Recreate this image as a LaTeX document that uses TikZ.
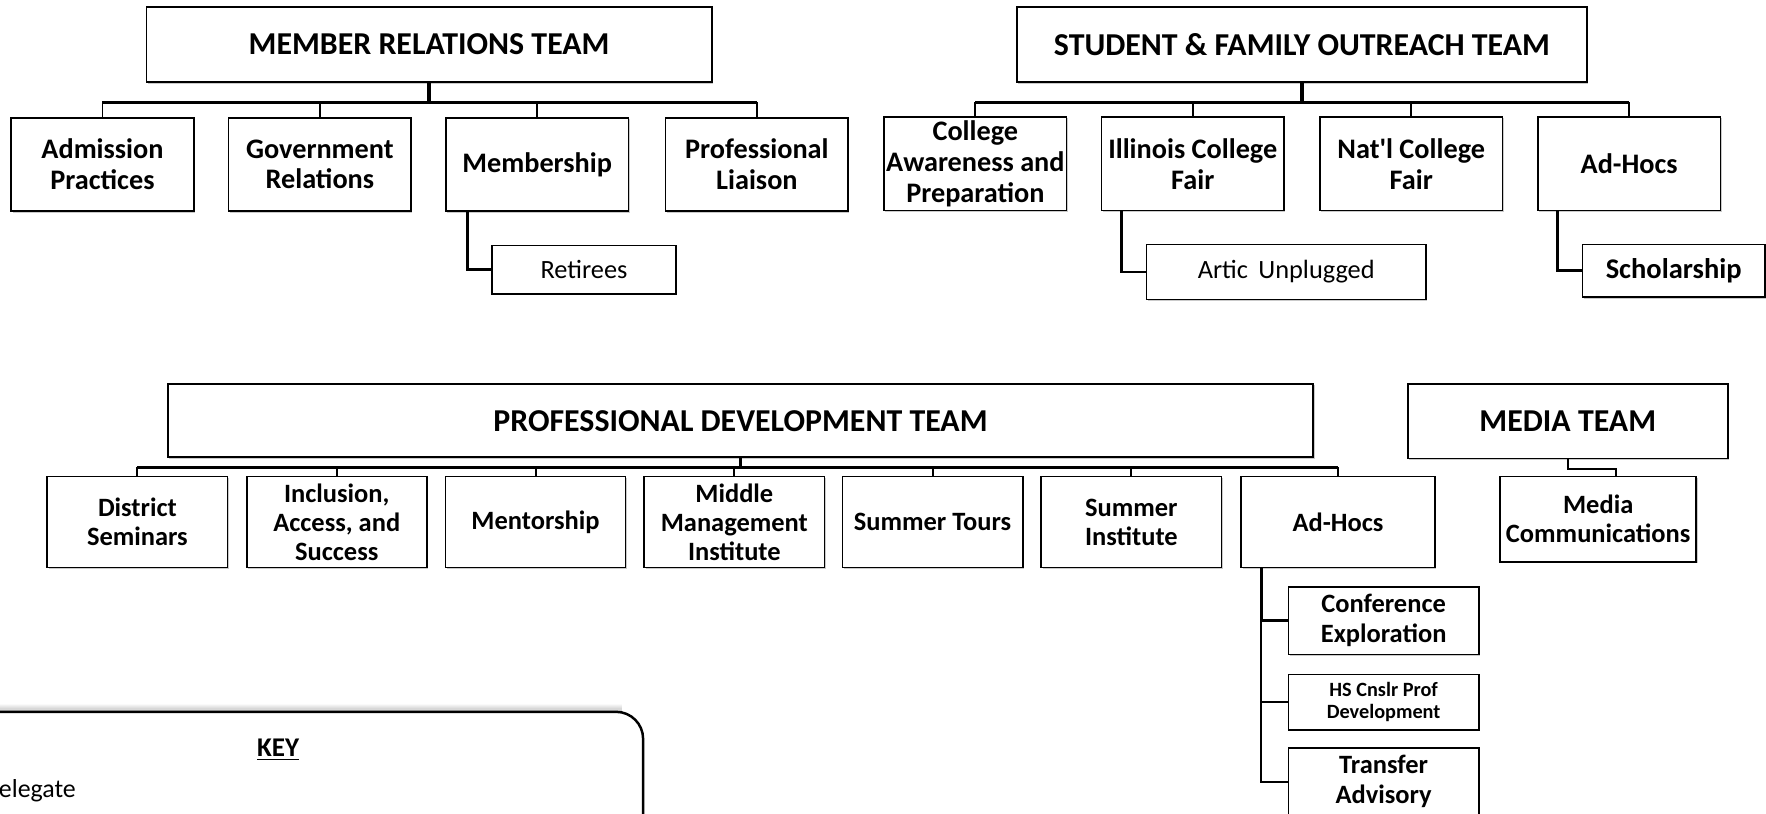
\documentclass[tikz,border=0pt]{standalone}
\usepackage{fontspec}
\setmainfont{Carlito}
\newfontfamily\carlitoplain{Carlito}
\usetikzlibrary{shadows}
\begin{document}
\begin{tikzpicture}[x=0.5pt,y=-0.5pt,
  box/.style={draw, fill=white, line width=0.75pt, inner sep=0pt, align=center,
    drop shadow={shadow xshift=0.6pt, shadow yshift=-0.6pt, opacity=0.35, fill=black!60}},
  team/.style={box, minimum height=33.5pt, font=\bfseries\fontsize{14.15}{17}\selectfont},
  topchild/.style={box, minimum width=81pt, minimum height=41.5pt, font=\bfseries\fontsize{12.55}{13.6}\selectfont},
  botchild/.style={box, minimum width=80pt, minimum height=40.5pt, font=\bfseries\fontsize{11.75}{12.9}\selectfont},
  subreg/.style={box, font=\fontsize{11.7}{13}\selectfont},
  subbold/.style={box, font=\bfseries\fontsize{11.75}{13.4}\selectfont},
  pdrop/.style={line width=1.6pt},
  bus/.style={line width=1.3pt},
  cdrop/.style={line width=0.85pt},
  sublink/.style={line width=1.3pt}]
\useasboundingbox (0,0) rectangle (1568,722);
\clip (0,0) rectangle (1568,722);

% ---------- Member Relations Team ----------
\node[team, minimum width=251pt] (mrt) at (381,39.5) {MEMBER RELATIONS TEAM};
\node[topchild] (ap)  at (91,146)  {Admission\\Practices};
\node[topchild] (gr)  at (284,146) {Government\\Relations};
\node[topchild] (mem) at (477,146) {Membership};
\node[topchild] (pl)  at (672,146) {Professional\\Liaison};
\node[subreg, minimum width=81.5pt, minimum height=21.5pt] (ret) at (518.5,239.5) {Retirees};

\draw[pdrop] (mrt.south) -- ++(0,17) coordinate (mb);
\draw[bus] (ap.north |- mb) -- (pl.north |- mb);
\foreach \n in {ap,gr,mem,pl} \draw[cdrop] (\n.north) -- (\n.north |- mb);
\draw[sublink] ([xshift=-31pt]mem.south) |- (ret.west);

% ---------- Student & Family Outreach Team ----------
\node[team, minimum width=253pt] (sfot) at (1156,39.5) {STUDENT \& FAMILY OUTREACH TEAM};
\node[topchild] (cap) at (866,145.5)    {College\\Awareness and\\Preparation};
\node[topchild] (icf) at (1059,145.5)   {Illinois College\\Fair};
\node[topchild] (ncf) at (1253,145.5)   {{\carlitoplain\bfseries Nat'l College}\\Fair};
\node[topchild] (ah1) at (1446.5,145.5) {Ad-Hocs};
\node[subreg, minimum width=124pt, minimum height=24.5pt] (artic) at (1142,241.5) {Artic\, Unplugged};
\node[box, minimum width=81pt, minimum height=23.5pt, font=\bfseries\fontsize{12.65}{14}\selectfont] (sch) at (1486,240.5) {Scholarship};

\draw[pdrop] (sfot.south) -- ++(0,17) coordinate (sb);
\draw[bus] (cap.north |- sb) -- (ah1.north |- sb);
\foreach \n in {cap,icf,ncf,ah1} \draw[cdrop] (\n.north) -- (\n.north |- sb);
\draw[sublink] ([xshift=-31.5pt]icf.south) |- (artic.west);
\draw[sublink] ([xshift=-31.75pt]ah1.south) |- (sch.west);

% ---------- Professional Development Team ----------
\node[team, minimum width=508.5pt, minimum height=32.5pt] (pdt) at (657.5,373.5) {PROFESSIONAL DEVELOPMENT TEAM};
\node[botchild] (ds)  at (122,463.5)    {District\\Seminars};
\node[botchild] (ias) at (299,463.5)    {Inclusion,\\Access, and\\Success};
\node[botchild] (men) at (475.5,463.5)  {Mentorship};
\node[botchild] (mmi) at (652,463.5)    {Middle\\Management\\Institute};
\node[botchild] (st)  at (828,463.5)    {Summer Tours};
\node[botchild] (si)  at (1004.5,463.5) {Summer\\Institute};
\node[botchild, minimum width=86pt] (ah2) at (1188,463.5) {Ad-Hocs};

\draw[pdrop] (pdt.south) -- ++(0,8) coordinate (pb);
\draw[bus] (ds.north |- pb) -- (ah2.north |- pb);
\foreach \n in {ds,ias,men,mmi,st,si,ah2} \draw[cdrop] (\n.north) -- (\n.north |- pb);

\node[subbold, minimum width=84.5pt, minimum height=30pt] (ce) at (1228.5,551) {Conference\\Exploration};
\node[box, minimum width=84.5pt, minimum height=24.5pt, font=\bfseries\fontsize{9}{9.6}\selectfont] (hs) at (1228.5,623.5) {HS Cnslr Prof\\Development};
\node[subbold, minimum width=84.5pt, minimum height=30pt] (ta) at (1228.5,694) {Transfer\\Advisory};

\draw[sublink] ([xshift=-34pt]ah2.south) |- (ce.west);
\draw[cdrop] ([xshift=-34pt]ah2.south) |- (hs.west);
\draw[cdrop] ([xshift=-34pt]ah2.south) |- (ta.west);

% ---------- Media Team ----------
\node[team, minimum width=142pt, minimum height=33pt] (mt) at (1392,374) {MEDIA TEAM};
\node[botchild, minimum width=87pt, minimum height=38pt] (mc) at (1419,461) {Media\\Communications};
\draw[cdrop] (mt.south) -- ++(0,8.6) -| ([xshift=8pt]mc.north);

% ---------- Key ----------
\foreach \o/\a in {6/0.02,5/0.035,4/0.05,3/0.07,2/0.09,1/0.1}
  \draw[line width=1pt, black, opacity=\a] (-40,632-\o) -- (552,632-\o);
\draw[line width=1.1pt, rounded corners=12pt, fill=white] (-40,632) -- (571,632) -- (571,800) -- (-40,800) -- cycle;
\node[inner sep=0pt, font=\bfseries\fontsize{12}{14}\selectfont] (key) at (247,666) {\underline{KEY}};
\node[inner sep=0pt, anchor=west, font=\fontsize{11.5}{13}\selectfont] (del) at (-15.5,702) {Delegate};
\end{tikzpicture}
\end{document}
